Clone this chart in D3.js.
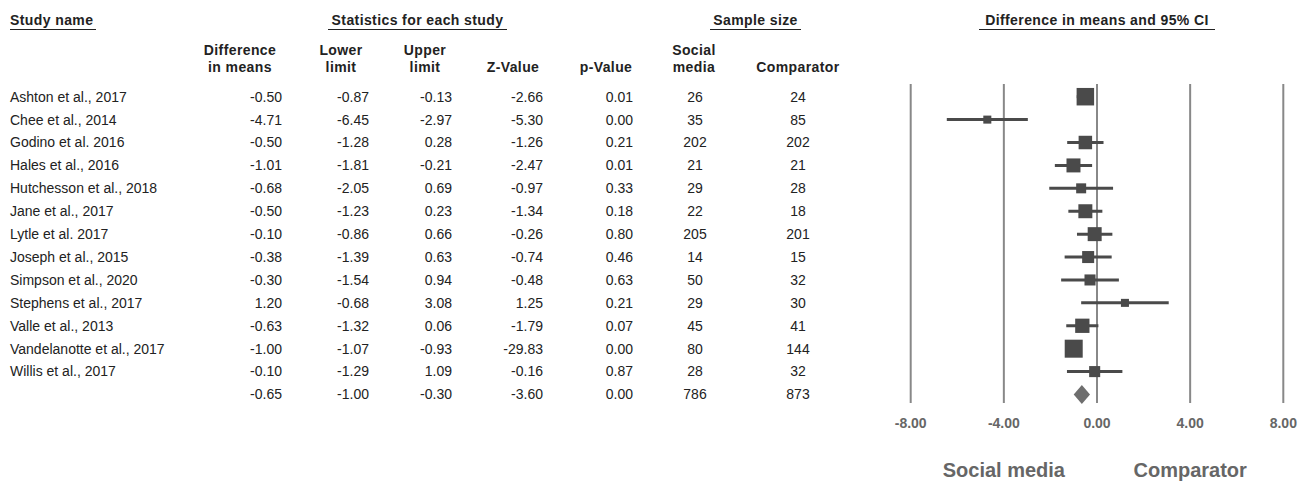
<!DOCTYPE html>
<html>
<head>
<meta charset="utf-8">
<script src="https://cdn.jsdelivr.net/npm/d3@7"></script>
<style>
  html, body { margin: 0; padding: 0; background: #fff; }
  svg { display: block; font-family: "Liberation Sans", Arial, sans-serif; }
</style>
</head>
<body>
<svg id="chart" width="1309" height="484"></svg>
<script>
// Study rows (summary row last, with no name)
const studies = [
  "Ashton et al., 2017", "Chee et al., 2014", "Godino et al. 2016", "Hales et al., 2016",
  "Hutchesson et al., 2018", "Jane et al., 2017", "Lytle et al. 2017", "Joseph et al., 2015",
  "Simpson et al., 2020", "Stephens et al., 2017", "Valle et al., 2013",
  "Vandelanotte et al., 2017", "Willis et al., 2017", ""
];
const diffMeans = [-0.50, -4.71, -0.50, -1.01, -0.68, -0.50, -0.10, -0.38, -0.30, 1.20, -0.63, -1.00, -0.10, -0.65];
const lowerLimit = [-0.87, -6.45, -1.28, -1.81, -2.05, -1.23, -0.86, -1.39, -1.54, -0.68, -1.32, -1.07, -1.29, -1.00];
const upperLimit = [-0.13, -2.97, 0.28, -0.21, 0.69, 0.23, 0.66, 0.63, 0.94, 3.08, 0.06, -0.93, 1.09, -0.30];
const zValue = [-2.66, -5.30, -1.26, -2.47, -0.97, -1.34, -0.26, -0.74, -0.48, 1.25, -1.79, -29.83, -0.16, -3.60];
const pValue = [0.01, 0.00, 0.21, 0.01, 0.33, 0.18, 0.80, 0.46, 0.63, 0.21, 0.07, 0.00, 0.87, 0.00];
const nSocial = [26, 35, 202, 21, 29, 22, 205, 14, 50, 29, 45, 80, 28, 786];
const nComparator = [24, 85, 202, 21, 28, 18, 201, 15, 32, 30, 41, 144, 32, 873];
// Relative weight (%) of each study, sets the box area
const relWeight = [13.8, 2.9, 8.2, 8.8, 4.5, 8.8, 8.8, 6.5, 5.5, 2.9, 9.2, 14.6, 5.5];
const axisTicks = [-8, -4, 0, 4, 8];

const svg = d3.select("#chart");
const textColor = "#222";
const markColor = "#4a4a4a";

const nRows = studies.length;
const y = d3.scaleLinear().domain([0, nRows - 1]).range([96.7, 394.5]);
const x = d3.scaleLinear().domain([-8, 8]).range([910.7, 1283.3]);
const side = d3.scaleSqrt().domain([0, d3.max(relWeight)]).range([0, 18]);

// ---- Group headers with underline ----
const groups = [
  { text: "Study name", x: 10, anchor: "start", u0: 10, u1: 96 },
  { text: "Statistics for each study", x: 417.5, anchor: "middle", u0: 328, u1: 507 },
  { text: "Sample size", x: 755.5, anchor: "middle", u0: 710, u1: 801 },
  { text: "Difference in means and 95% CI", x: x(0), anchor: "middle", u0: 979, u1: 1215 }
];
const gh = svg.append("g");
groups.forEach(g => {
  gh.append("text").attr("x", g.x).attr("y", 20).attr("dy", "0.35em")
    .attr("text-anchor", g.anchor).attr("font-size", 14).attr("font-weight", "bold")
    .attr("letter-spacing", 0.4)
    .attr("fill", textColor).text(g.text);
  gh.append("line").attr("x1", g.u0).attr("x2", g.u1).attr("y1", 29.5).attr("y2", 29.5)
    .attr("stroke", textColor).attr("stroke-width", 1);
});

// ---- Column headers ----
const cols = [
  { head: ["Difference", "in means"], hx: 240, vx: 282, anchor: "end", vals: diffMeans, fmt: d3.format(".2f") },
  { head: ["Lower", "limit"], hx: 341, vx: 369, anchor: "end", vals: lowerLimit, fmt: d3.format(".2f") },
  { head: ["Upper", "limit"], hx: 425, vx: 452, anchor: "end", vals: upperLimit, fmt: d3.format(".2f") },
  { head: ["", "Z-Value"], hx: 513, vx: 543, anchor: "end", vals: zValue, fmt: d3.format(".2f") },
  { head: ["", "p-Value"], hx: 606, vx: 633, anchor: "end", vals: pValue, fmt: d3.format(".2f") },
  { head: ["Social", "media"], hx: 694, vx: 695, anchor: "middle", vals: nSocial, fmt: d3.format("d") },
  { head: ["", "Comparator"], hx: 798, vx: 798, anchor: "middle", vals: nComparator, fmt: d3.format("d") }
];
const ch = svg.append("g");
cols.forEach(c => {
  c.head.forEach((line, i) => {
    if (!line) return;
    ch.append("text").attr("x", c.hx).attr("y", 50 + i * 17).attr("dy", "0.35em")
      .attr("text-anchor", "middle").attr("font-size", 14).attr("font-weight", "bold")
      .attr("letter-spacing", 0.4)
      .attr("fill", textColor).text(line);
  });
  ch.selectAll(null).data(c.vals).join("text")
    .attr("x", c.vx).attr("y", (d, i) => y(i)).attr("dy", "0.35em")
    .attr("text-anchor", c.anchor).attr("font-size", 14).attr("fill", textColor)
    .text(d => c.fmt(d).replace("−", "-"));
});

// Study names
svg.append("g").selectAll("text").data(studies).join("text")
  .attr("x", 10).attr("y", (d, i) => y(i)).attr("dy", "0.35em")
  .attr("font-size", 14).attr("fill", textColor).text(d => d);

// ---- Forest plot ----
const plot = svg.append("g");
plot.selectAll("line.grid").data(axisTicks).join("line")
  .attr("class", "grid")
  .attr("x1", d => x(d)).attr("x2", d => x(d))
  .attr("y1", 84).attr("y2", 403)
  .attr("stroke", "#888").attr("stroke-width", 2);

const idx = d3.range(relWeight.length);
plot.selectAll("line.ci").data(idx).join("line")
  .attr("class", "ci")
  .attr("x1", i => x(lowerLimit[i])).attr("x2", i => x(upperLimit[i]))
  .attr("y1", i => y(i)).attr("y2", i => y(i))
  .attr("stroke", markColor).attr("stroke-width", 3);

plot.selectAll("rect.box").data(idx).join("rect")
  .attr("class", "box")
  .attr("x", i => x(diffMeans[i]) - side(relWeight[i]) / 2)
  .attr("y", i => y(i) - side(relWeight[i]) / 2)
  .attr("width", i => side(relWeight[i]))
  .attr("height", i => side(relWeight[i]))
  .attr("fill", markColor);

// Summary diamond
const s = nRows - 1;
const ds = 9.5;
plot.append("path")
  .attr("d", `M${x(lowerLimit[s])},${y(s)} L${x(diffMeans[s])},${y(s) - ds} L${x(upperLimit[s])},${y(s)} L${x(diffMeans[s])},${y(s) + ds} Z`)
  .attr("fill", "#6e6e6e");

// Axis tick labels
plot.selectAll("text.tick").data(axisTicks).join("text")
  .attr("class", "tick")
  .attr("x", d => x(d)).attr("y", 423).attr("dy", "0.35em")
  .attr("text-anchor", "middle").attr("font-size", 14).attr("font-weight", "bold")
  .attr("fill", "#666").text(d => d3.format(".2f")(d).replace("−", "-"));

// Direction labels
plot.append("text").attr("x", x(-4)).attr("y", 470).attr("dy", "0.35em")
  .attr("text-anchor", "middle").attr("font-size", 20).attr("font-weight", "bold")
  .attr("fill", "#666").text("Social media");
plot.append("text").attr("x", x(4)).attr("y", 470).attr("dy", "0.35em")
  .attr("text-anchor", "middle").attr("font-size", 20).attr("font-weight", "bold")
  .attr("fill", "#666").text("Comparator");
</script>
</body>
</html>
